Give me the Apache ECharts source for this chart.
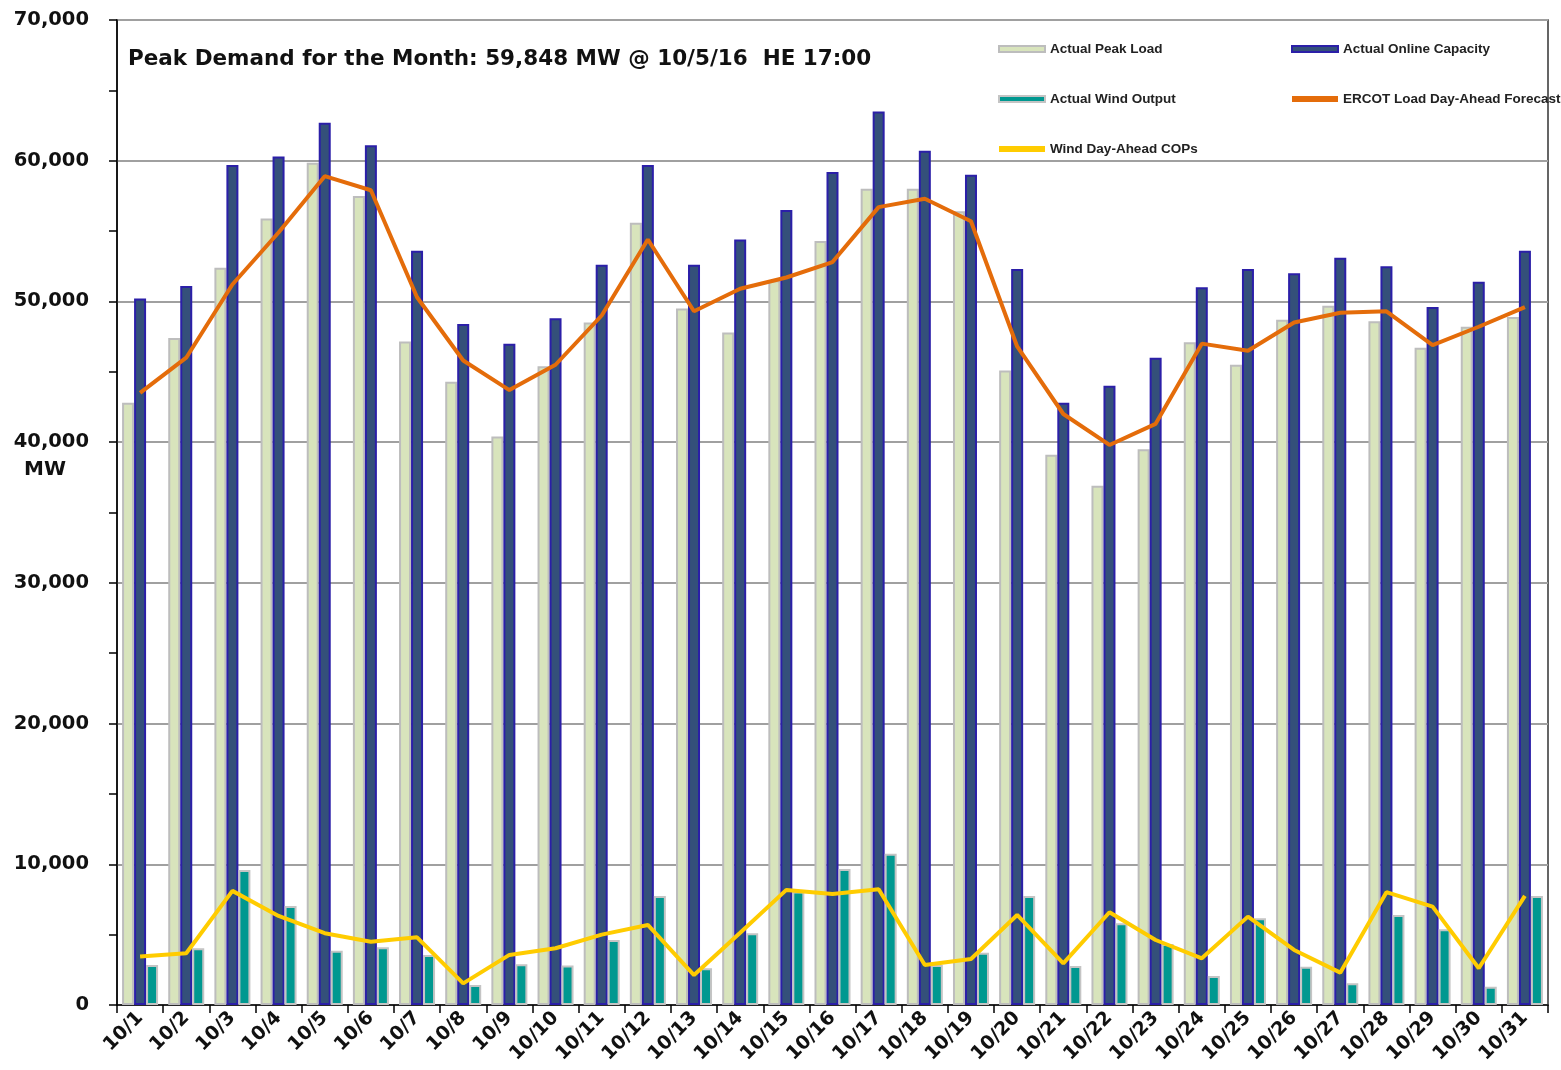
<!DOCTYPE html>
<html>
<head>
<meta charset="utf-8">
<script src="https://cdn.jsdelivr.net/npm/echarts@6/dist/echarts.min.js"></script>
<style>
html,body{margin:0;padding:0;background:#fff;}
#chart{width:1561px;height:1070px;}
</style>
</head>
<body>
<div id="chart"></div>
<script>
const categories = ['10/1','10/2','10/3','10/4','10/5','10/6','10/7','10/8','10/9','10/10','10/11','10/12','10/13','10/14','10/15','10/16','10/17','10/18','10/19','10/20','10/21','10/22','10/23','10/24','10/25','10/26','10/27','10/28','10/29','10/30','10/31'];
const actualPeakLoad = [42800,47400,52400,55900,59848,57500,47150,44300,40400,45400,48500,55600,49500,47800,51500,54300,58000,58000,56400,45100,39100,36900,39500,47100,45500,48700,49700,48600,46700,48200,48900];
const actualOnlineCapacity = [50200,51100,59700,60300,62700,61100,53600,48400,47000,48800,52600,59700,52600,54400,56500,59200,63500,60700,59000,52300,42800,44000,46000,51000,52300,52000,53100,52500,49600,51400,53600];
const actualWindOutput = [2850,4030,9600,7040,3860,4100,3560,1420,2890,2800,4620,7750,2610,5100,8060,9670,10740,2850,3720,7750,2770,5810,4340,2060,6170,2720,1540,6400,5380,1300,7750];
const ercotLoadForecast = [43500,46000,51200,54900,58900,57900,50300,45800,43700,45500,49000,54400,49300,50900,51700,52800,56700,57300,55700,46800,42000,39800,41300,47000,46500,48500,49200,49300,46900,48200,49600];
const windDayAheadCOPs = [3440,3680,8110,6330,5100,4500,4810,1540,3560,4030,5000,5690,2130,5140,8180,7890,8230,2840,3270,6400,2960,6590,4620,3320,6280,3910,2300,8020,6990,2610,7750];
const yTicks = {min:0, max:70000, interval:10000};
const titleText = 'Peak Demand for the Month: 59,848 MW @ 10/5/16  HE 17:00';
const yUnit = 'MW';

const chart = echarts.init(document.getElementById('chart'));
const legendText = {fontFamily:'Liberation Sans', fontWeight:'bold', fontSize:13.5, color:'#222'};
chart.setOption({
  animation:false,
  backgroundColor:'#fff',
  grid:{left:117, right:13, top:20, bottom:65, show:true, borderColor:'#333', borderWidth:1.5},
  graphic:[
    {type:'text', left:128, top:48, style:{text:titleText, font:'bold 21.5px "DejaVu Sans"', fill:'#111'}},
    {type:'text', left:24, top:460, style:{text:yUnit, font:'bold 20px "DejaVu Sans"', fill:'#111'}}
  ],
  legend:[
    {orient:'vertical', left:993, top:37, itemWidth:46, itemHeight:6, itemGap:36, icon:'rect',
     textStyle:legendText, data:['Actual Peak Load','Actual Wind Output','Wind Day-Ahead COPs']},
    {orient:'vertical', left:1286, top:37, itemWidth:46, itemHeight:6, itemGap:36, icon:'rect',
     textStyle:legendText, data:['Actual Online Capacity','ERCOT Load Day-Ahead Forecast']}
  ],
  xAxis:{
    type:'category', data:categories,
    axisLine:{lineStyle:{color:'#000', width:1.5}},
    axisTick:{show:true, length:8, lineStyle:{color:'#000', width:1.5}},
    axisLabel:{rotate:45, interval:0, fontFamily:'DejaVu Sans', fontWeight:'bold', fontSize:19, color:'#111', margin:10}
  },
  yAxis:{
    type:'value', min:yTicks.min, max:yTicks.max, interval:yTicks.interval,
    axisLine:{show:true, lineStyle:{color:'#000', width:1.5}},
    axisTick:{show:true, length:8, inside:false, lineStyle:{color:'#000', width:1.5}},
    minorTick:{show:true, splitNumber:2, length:8, lineStyle:{color:'#000', width:1.5}},
    splitLine:{show:true, lineStyle:{color:'#a0a0a0', width:2}},
    axisLabel:{fontFamily:'DejaVu Sans', fontWeight:'bold', fontSize:19.5, color:'#111', margin:28,
      formatter:v=>v.toLocaleString('en-US')}
  },
  series:[
    {name:'Actual Peak Load', type:'bar', data:actualPeakLoad, barWidth:12, barGap:'0%',
     itemStyle:{color:'#d8e4bc', borderColor:'#bdbdbd', borderWidth:2}},
    {name:'Actual Online Capacity', type:'bar', data:actualOnlineCapacity, barWidth:12, barGap:'0%',
     itemStyle:{color:'#34507a', borderColor:'#2b1fa8', borderWidth:2}},
    {name:'Actual Wind Output', type:'bar', data:actualWindOutput, barWidth:12, barGap:'0%',
     itemStyle:{color:'#009890', borderColor:'#c4c4c4', borderWidth:2}},
    {name:'ERCOT Load Day-Ahead Forecast', type:'line', data:ercotLoadForecast, symbol:'none',
     lineStyle:{color:'#e46c0a', width:4}, itemStyle:{color:'#e46c0a'}, z:5},
    {name:'Wind Day-Ahead COPs', type:'line', data:windDayAheadCOPs, symbol:'none',
     lineStyle:{color:'#ffcc00', width:4}, itemStyle:{color:'#ffcc00'}, z:5}
  ]
});
</script>
</body>
</html>
